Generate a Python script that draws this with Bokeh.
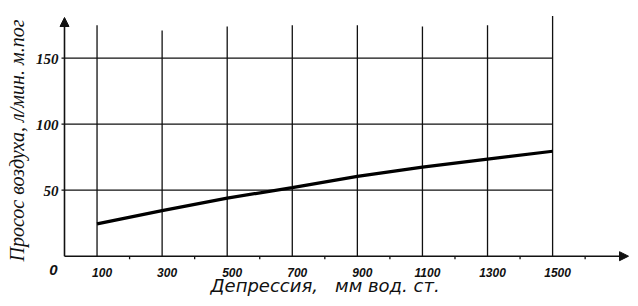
import math
from bokeh.plotting import figure
from bokeh.models import Range1d, Arrow, NormalHead, Label
from bokeh.core.properties import value
from bokeh.embed import file_html
from bokeh.resources import INLINE

# ---- data ----
depression = [100, 300, 500, 700, 900, 1100, 1300, 1500]          # мм вод. ст.
air_leak = [24.5, 34.5, 44, 52, 60.5, 67.5, 73.5, 79.5]          # л/мин. м.пог.
x_ticks = [100, 300, 500, 700, 900, 1100, 1300, 1500]
x_tick_labels = ["100", "300", "500", "700", "900", "1100", "1300", "1500"]
x_minor_ticks = [200, 400, 600, 800, 1000, 1200, 1400, 1600]
y_ticks = [50, 100, 150]
y_tick_labels = ["50", "100", "150"]
v_grid_top = [175, 171, 174, 175, 175, 174, 175, 182]

x_title = "Депрессия,\u00a0\u00a0 мм вод. ст."
y_title = "Просос воздуха, л/мин. м.пог"

# ---- layout (whole figure is the frame) ----
W, H = 630, 298
XPX = 0.3254     # px per x unit
YPX = 1.32       # px per y unit
X0PX, Y0PX = 64, 255.7   # pixel of origin inside figure
x_range = Range1d(-X0PX / XPX, (W - X0PX) / XPX)
y_range = Range1d((Y0PX - H) / YPX, Y0PX / YPX)

p = figure(width=W, height=H, x_range=x_range, y_range=y_range,
           output_backend="svg", toolbar_location=None,
           x_axis_type=None, y_axis_type=None,
           min_border=0, min_border_left=0, min_border_right=0,
           min_border_top=0, min_border_bottom=0)
p.outline_line_color = None
p.grid.visible = False
p.background_fill_color = "white"
p.border_fill_color = "white"

INK = "#111111"
x_max = 1500
tick_px = 3.0

# vertical grid lines
p.segment(x0=x_ticks, y0=[0] * len(x_ticks), x1=x_ticks, y1=v_grid_top,
          line_color=INK, line_width=1.3)
# horizontal grid lines (with small ticks left of y axis)
p.segment(x0=[-tick_px / XPX] * len(y_ticks), y0=y_ticks,
          x1=[x_max] * len(y_ticks), y1=y_ticks,
          line_color=INK, line_width=1.3)
# minor ticks on x axis
p.segment(x0=x_minor_ticks, y0=[0] * len(x_minor_ticks),
          x1=x_minor_ticks, y1=[-tick_px / YPX] * len(x_minor_ticks),
          line_color=INK, line_width=1.3)

# axes with arrow heads
x_end = (W - 2 - X0PX) / XPX
y_end = (Y0PX - 17) / YPX
p.add_layout(Arrow(end=NormalHead(size=9, fill_color=INK, line_color=INK, line_width=1),
                   x_start=0, y_start=0, x_end=x_end, y_end=0,
                   line_color=INK, line_width=1.6))
p.add_layout(Arrow(end=NormalHead(size=9, fill_color=INK, line_color=INK, line_width=1),
                   x_start=0, y_start=0, x_end=0, y_end=y_end,
                   line_color=INK, line_width=1.6))

# curve
p.line(depression, air_leak, line_color="black", line_width=3.2)

# tick labels
p.text(x=x_ticks, y=[0] * len(x_ticks), text=x_tick_labels,
       x_offset=5, y_offset=16,
       text_font=value("Liberation Sans"), text_font_style="bold italic",
       text_font_size="12px", text_align="center", text_baseline="alphabetic",
       text_color=INK)
p.text(x=[0] * len(y_ticks), y=y_ticks, text=y_tick_labels,
       x_offset=-6, y_offset=1,
       text_font=value("Liberation Sans Narrow"), text_font_style="bold italic",
       text_font_size="15px", text_align="right", text_baseline="middle",
       text_color=INK)
p.text(x=[0], y=[0], text=["0"], x_offset=-11, y_offset=14,
       text_font=value("Liberation Sans"), text_font_style="bold italic",
       text_font_size="15px", text_align="center", text_baseline="alphabetic",
       text_color=INK)

# axis titles
p.add_layout(Label(x=(210 - X0PX) / XPX, y=(Y0PX - 285) / YPX, text=x_title,
                   text_font="DejaVu Sans", text_font_style="italic",
                   text_font_size="18px", text_align="left",
                   text_baseline="alphabetic", text_color=INK))
p.add_layout(Label(x=(16 - X0PX) / XPX, y=(Y0PX - 261) / YPX, text=y_title,
                   angle=math.pi / 2,
                   text_font="Liberation Sans Narrow", text_font_style="italic",
                   text_font_size="20px", text_align="left",
                   text_baseline="alphabetic", text_color=INK))

open("out.html", "w").write(file_html(p, INLINE))
